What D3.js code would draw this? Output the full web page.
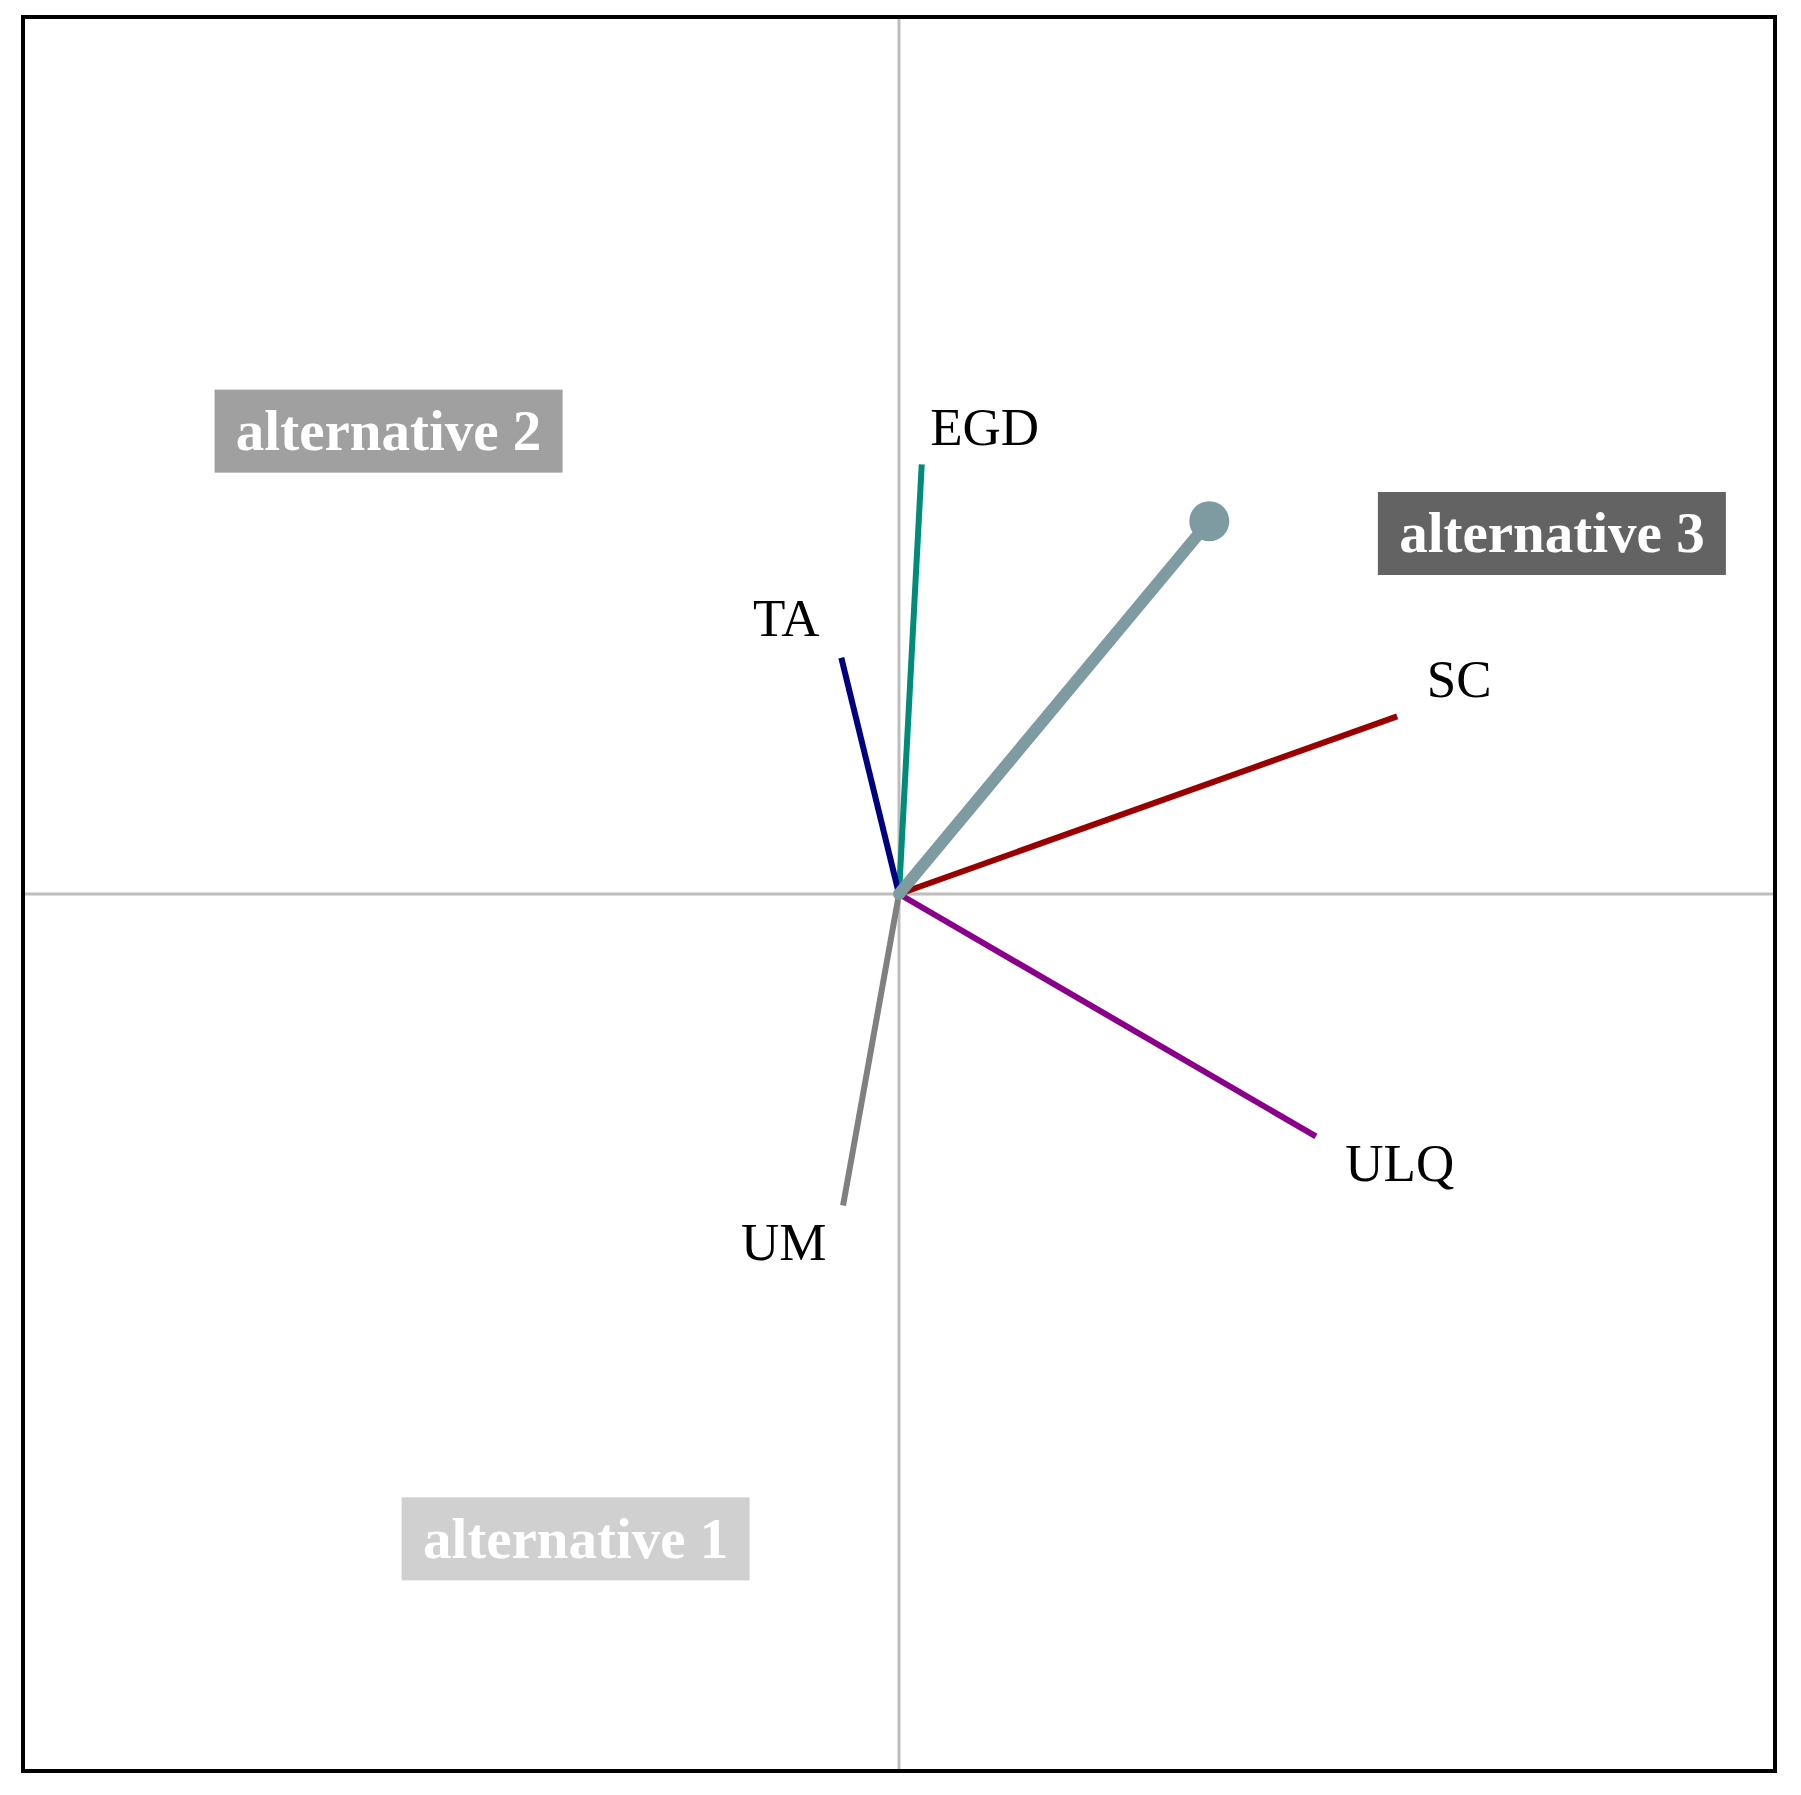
<!DOCTYPE html>
<html>
<head>
<meta charset="utf-8">
<script src="https://d3js.org/d3.v7.min.js"></script>
<style>
  html, body { margin: 0; padding: 0; background: #fff; }
  svg { display: block; }
</style>
</head>
<body>
<svg id="chart" width="1801" height="1795"></svg>
<script>
// ---- data (coordinates in the biplot's unit space) ----
const variables = ["EGD", "TA", "SC", "ULQ", "UM"];
const varX = [0.026, -0.066, 0.570, 0.477, -0.064];
const varY = [0.491, 0.270, 0.203, -0.277, -0.356];
const labelX = [0.098, -0.129, 0.641, 0.573, -0.132];
const labelY = [0.534, 0.316, 0.246, -0.307, -0.397];
const varColors = ["#008b7b", "#000080", "#990000", "#8b008b", "#808080"];

const resultX = [0.355];
const resultY = [0.426];

const alternatives = ["alternative 1", "alternative 2", "alternative 3"];
const altX = [-0.370, -0.584, 0.747];
const altY = [-0.737, 0.529, 0.412];
const altColors = ["#d0d0d0", "#a0a0a0", "#636363"];

// ---- layout ----
const svg = d3.select("#chart");
const frame = { x0: 23, y0: 17, x1: 1775, y1: 1771 };
const inner = { x0: frame.x0 + 2, y0: frame.y0 + 2, x1: frame.x1 - 2, y1: frame.y1 - 2 };

const x = d3.scaleLinear().domain([-1, 1]).range([inner.x0, inner.x1]);
const y = d3.scaleLinear().domain([-1, 1]).range([inner.y1, inner.y0]);

// axes through origin
svg.append("line")
  .attr("x1", x(0)).attr("x2", x(0)).attr("y1", inner.y0).attr("y2", inner.y1)
  .attr("stroke", "#bdbdbd").attr("stroke-width", 3);
svg.append("line")
  .attr("y1", y(0)).attr("y2", y(0)).attr("x1", inner.x0).attr("x2", inner.x1)
  .attr("stroke", "#bdbdbd").attr("stroke-width", 3);

// alternatives boxes
const boxW = 348, boxH = 83;
const altG = svg.append("g").selectAll("g").data(alternatives).join("g")
  .attr("transform", (d, i) => `translate(${x(altX[i])},${y(altY[i])})`);
altG.append("rect")
  .attr("x", -boxW / 2).attr("y", -boxH / 2)
  .attr("width", boxW).attr("height", boxH)
  .attr("fill", (d, i) => altColors[i]);
altG.append("text")
  .attr("text-anchor", "middle").attr("dy", "0.33em")
  .attr("fill", "#ffffff")
  .attr("font-family", "'Liberation Serif', 'DejaVu Serif', serif")
  .attr("font-weight", "bold")
  .attr("font-size", 57)
  .text(d => d);

// variable vectors
svg.append("g").selectAll("line").data(variables).join("line")
  .attr("x1", x(0)).attr("y1", y(0))
  .attr("x2", (d, i) => x(varX[i])).attr("y2", (d, i) => y(varY[i]))
  .attr("stroke", (d, i) => varColors[i])
  .attr("stroke-width", 6);

// variable labels
svg.append("g").selectAll("text").data(variables).join("text")
  .attr("x", (d, i) => x(labelX[i])).attr("y", (d, i) => y(labelY[i]))
  .attr("text-anchor", "middle").attr("dy", "0.35em")
  .attr("fill", "#000")
  .attr("font-family", "'Liberation Serif', 'DejaVu Serif', serif")
  .attr("font-size", 53)
  .text(d => d);

// resulting vector
svg.append("line")
  .attr("x1", x(0)).attr("y1", y(0))
  .attr("x2", x(resultX[0])).attr("y2", y(resultY[0]))
  .attr("stroke", "#7f9ba2").attr("stroke-width", 12)
  .attr("stroke-linecap", "round");
svg.append("circle")
  .attr("cx", x(resultX[0])).attr("cy", y(resultY[0]))
  .attr("r", 20).attr("fill", "#7f9ba2");

// frame
svg.append("rect")
  .attr("x", frame.x0).attr("y", frame.y0)
  .attr("width", frame.x1 - frame.x0).attr("height", frame.y1 - frame.y0)
  .attr("fill", "none").attr("stroke", "#000").attr("stroke-width", 4);
</script>
</body>
</html>
